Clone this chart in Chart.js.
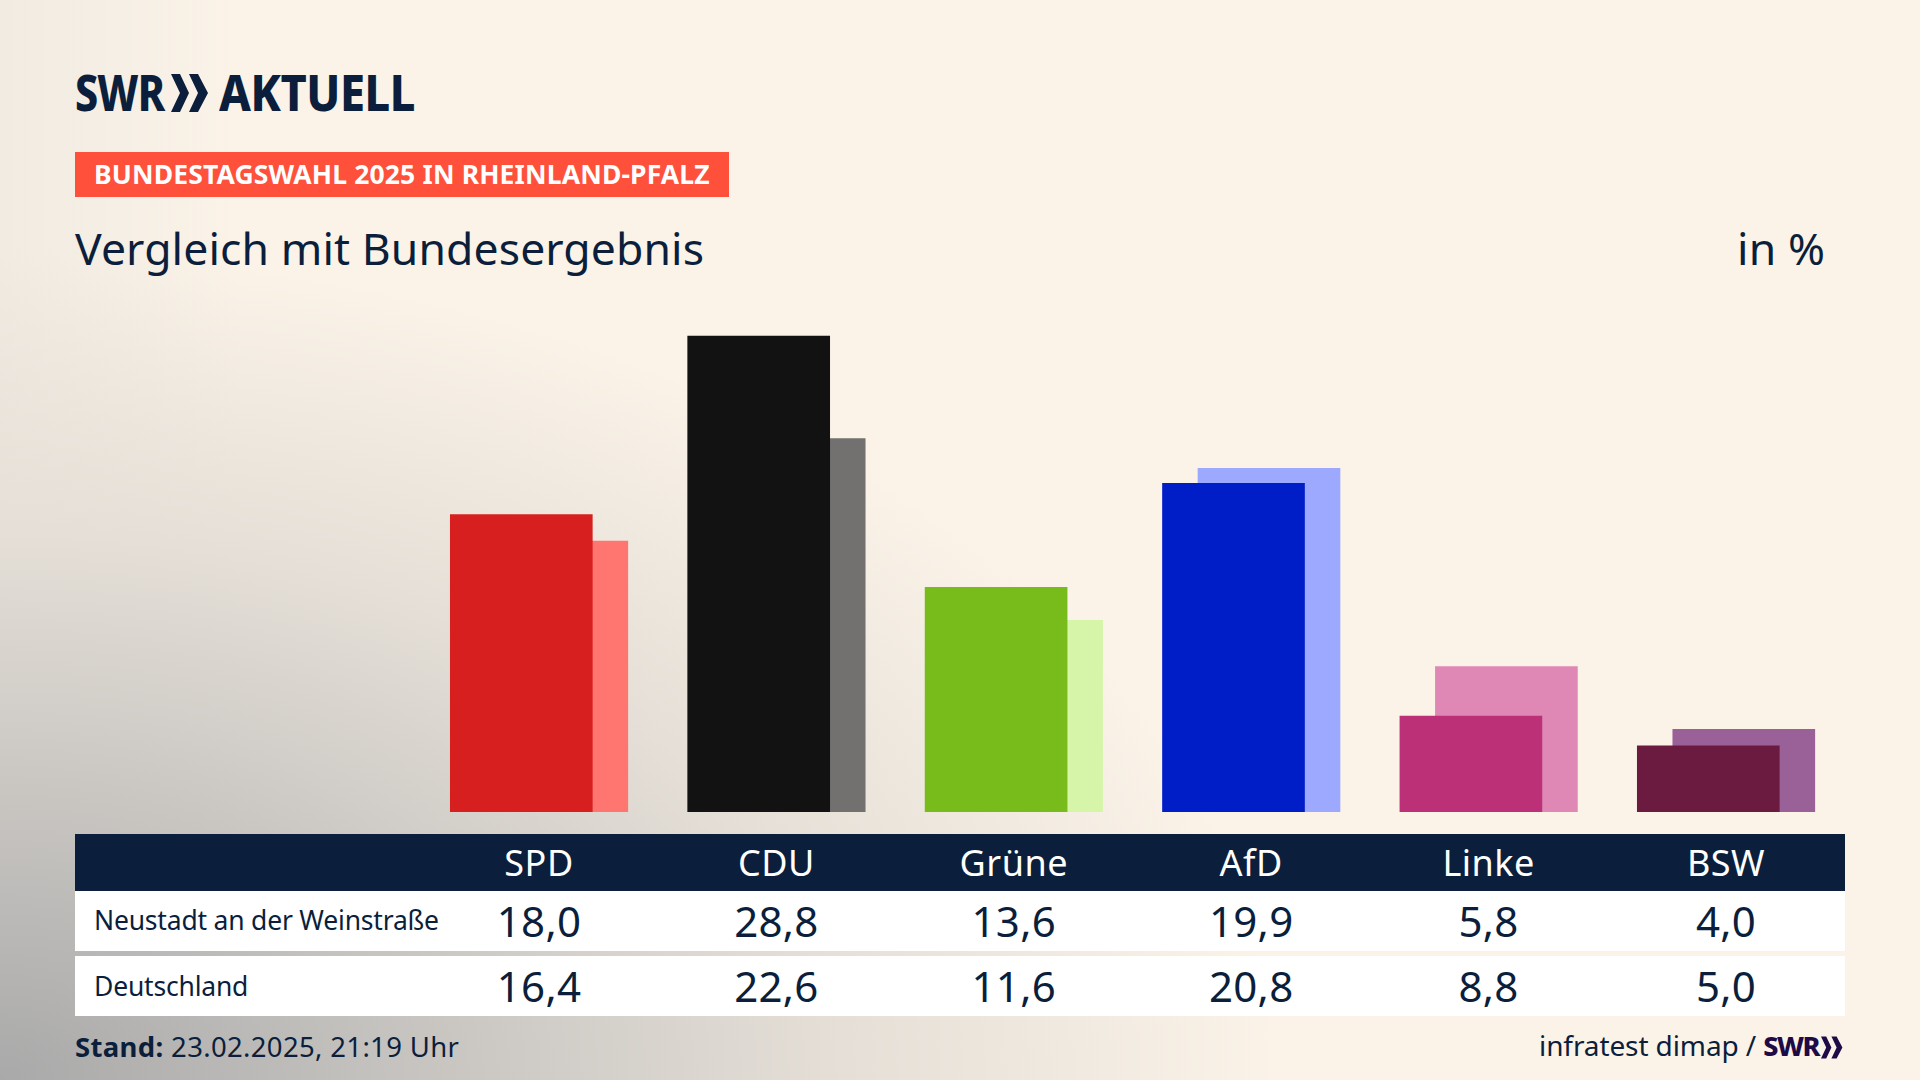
<!DOCTYPE html>
<html lang="de">
<head>
<meta charset="utf-8">
<title>Vergleich mit Bundesergebnis</title>
<script src="https://cdn.jsdelivr.net/npm/chart.js@4"></script>
<style>
  html, body { margin: 0; padding: 0; }
  body {
    width: 1920px; height: 1080px; overflow: hidden; position: relative;
    font-family: "Noto Sans", sans-serif; color: #0b1f3c;
    background:
      radial-gradient(ellipse 1280px 830px at 0 100%, #a9a9a9 0%, #c9c6c2 35%, #e5dfd7 66%, rgba(251,243,232,0) 100%),
      linear-gradient(90deg, #f1ebe2 0, #fbf3e8 240px);
    background-color: #fbf3e8;
  }
  .abs { position: absolute; white-space: nowrap; }
  #chartBox { position: absolute; left: 0; top: 240px; width: 1920px; height: 572px; }
  .logoText { top: 62px; font-size: 49px; line-height: 60px; font-weight: 800; transform-origin: 0 50%; }
  #logoSwr { left: 75px; letter-spacing: -1px; transform: scaleX(.84); }
  #logoChev { left: 171px; top: 74px; }
  #logoAkt { left: 219px; letter-spacing: -.5px; transform: scaleX(.92); }
  #tag { left: 75px; top: 152px; width: 654px; height: 45px; background: #ff503c; color: #fff;
         font-size: 26.5px; line-height: 45px; font-weight: 700; text-indent: 19px; letter-spacing: .15px; }
  #title { left: 75px; top: 218px; font-size: 44.5px; line-height: 60px; letter-spacing: .1px; }
  #unit { right: 95px; top: 218px; font-size: 44.5px; line-height: 60px; letter-spacing: .1px; }
  .band { position: absolute; left: 75px; width: 1770px; }
  .rowlabel { font-size: 26.5px; left: 94px; letter-spacing: -.2px; }
  .cell { transform: translateX(-50%); }
  .head { color: #fff; font-size: 36px; letter-spacing: .5px; }
  .val { font-size: 42px; letter-spacing: .3px; }
  #stand { left: 75px; top: 1027px; font-size: 27.5px; line-height: 40px; letter-spacing: .34px; }
  #source { right: 77px; top: 1025px; font-size: 28px; line-height: 40px; letter-spacing: -.1px; }
  #source b { color: #1e0a46; font-weight: 800; font-size: 27px; letter-spacing: -1.5px; }
</style>
</head>
<body>
<div id="logoSwr" class="abs logoText">SWR</div>
<svg id="logoChev" class="abs" width="37" height="38" viewBox="0 0 37 38"><polygon fill="#0b1f3c" points="0,0 9,0 18,19 9,38 0,38 9,19"/><polygon fill="#0b1f3c" points="18,0 27,0 37,19 27,38 18,38 27,19"/></svg>
<div id="logoAkt" class="abs logoText">AKTUELL</div>
<div id="tag" class="abs">BUNDESTAGSWAHL 2025 IN RHEINLAND-PFALZ</div>
<div id="title" class="abs">Vergleich mit Bundesergebnis</div>
<div id="unit" class="abs">in %</div>
<div id="chartBox"><canvas id="barCanvas" width="1920" height="572"></canvas></div>
<div class="band" style="top:834px;height:57px;background:#0b1f3c"></div>
<div class="band" style="top:891px;height:60px;background:#fff"></div>
<div class="band" style="top:956px;height:60px;background:#fff"></div>
<div id="stand" class="abs"><b>Stand:</b> 23.02.2025, 21:19 Uhr</div>
<div id="source" class="abs">infratest dimap / <b>SWR</b><svg width="22" height="23" viewBox="0 0 38 38" style="vertical-align:-3px;margin-left:2px"><polygon fill="#1e0a46" points="0,0 9,0 18,19 9,38 0,38 9,19"/><polygon fill="#1e0a46" points="18,0 27,0 37,19 27,38 18,38 27,19"/></svg></div>
<script>
// Parteien und Werte
const parties = ["SPD", "CDU", "Grüne", "AfD", "Linke", "BSW"];
const regionName = "Neustadt an der Weinstraße";
const nationName = "Deutschland";
const regionValues = [18.0, 28.8, 13.6, 19.9, 5.8, 4.0];
const nationValues = [16.4, 22.6, 11.6, 20.8, 8.8, 5.0];

const regionColors = ["#d81f1f", "#121212", "#78bc1b", "#001ec8", "#bc3078", "#6b1a40"];
const nationColors = ["#ff7570", "#72716f", "#d7f5a8", "#9ca9ff", "#df88b6", "#9a6098"];

// Breite einer Partei-Spalte in Pixel
const step = 237.4;
const canvasWidth = 1920;

function xRange(firstCenter) {
    return {
        type: "linear", display: false, bounds: "data", offset: false,
        min: -firstCenter / step,
        max: (canvasWidth - firstCenter) / step
    };
}

function points(values) {
    return values.map((v, i) => ({ x: i, y: v }));
}

new Chart(document.getElementById("barCanvas").getContext("2d"), {
    type: "bar",
    data: {
        datasets: [
            { label: regionName, data: points(regionValues), backgroundColor: regionColors,
              xAxisID: "x", barThickness: 142, grouped: false, order: 1 },
            { label: nationName, data: points(nationValues), backgroundColor: nationColors,
              xAxisID: "xBack", barThickness: 142, grouped: false, order: 2 }
        ]
    },
    options: {
        responsive: false,
        animation: false,
        devicePixelRatio: 1,
        plugins: { legend: { display: false }, tooltip: { enabled: false } },
        scales: {
            x: xRange(521.3),
            xBack: xRange(556.8),
            y: { display: false, min: 0, max: 34.62 }
        }
    }
});

// Tabelle unter dem Diagramm
function addText(text, cls, left, top, lineHeight) {
    const el = document.createElement("div");
    el.className = "abs " + cls;
    el.textContent = text;
    if (left !== null) el.style.left = left + "px";
    el.style.top = top + "px";
    el.style.lineHeight = lineHeight + "px";
    document.body.appendChild(el);
}

function fmt(v) {
    return v.toFixed(1).replace(".", ",");
}

addText(regionName, "rowlabel", null, 891, 59);
addText(nationName, "rowlabel", null, 956, 60);
parties.forEach((name, i) => {
    const cx = 539 + i * step;
    addText(name, "cell head", cx, 834, 57);
    addText(fmt(regionValues[i]), "cell val", cx, 891, 60);
    addText(fmt(nationValues[i]), "cell val", cx, 956, 60);
});
</script>
</body>
</html>
